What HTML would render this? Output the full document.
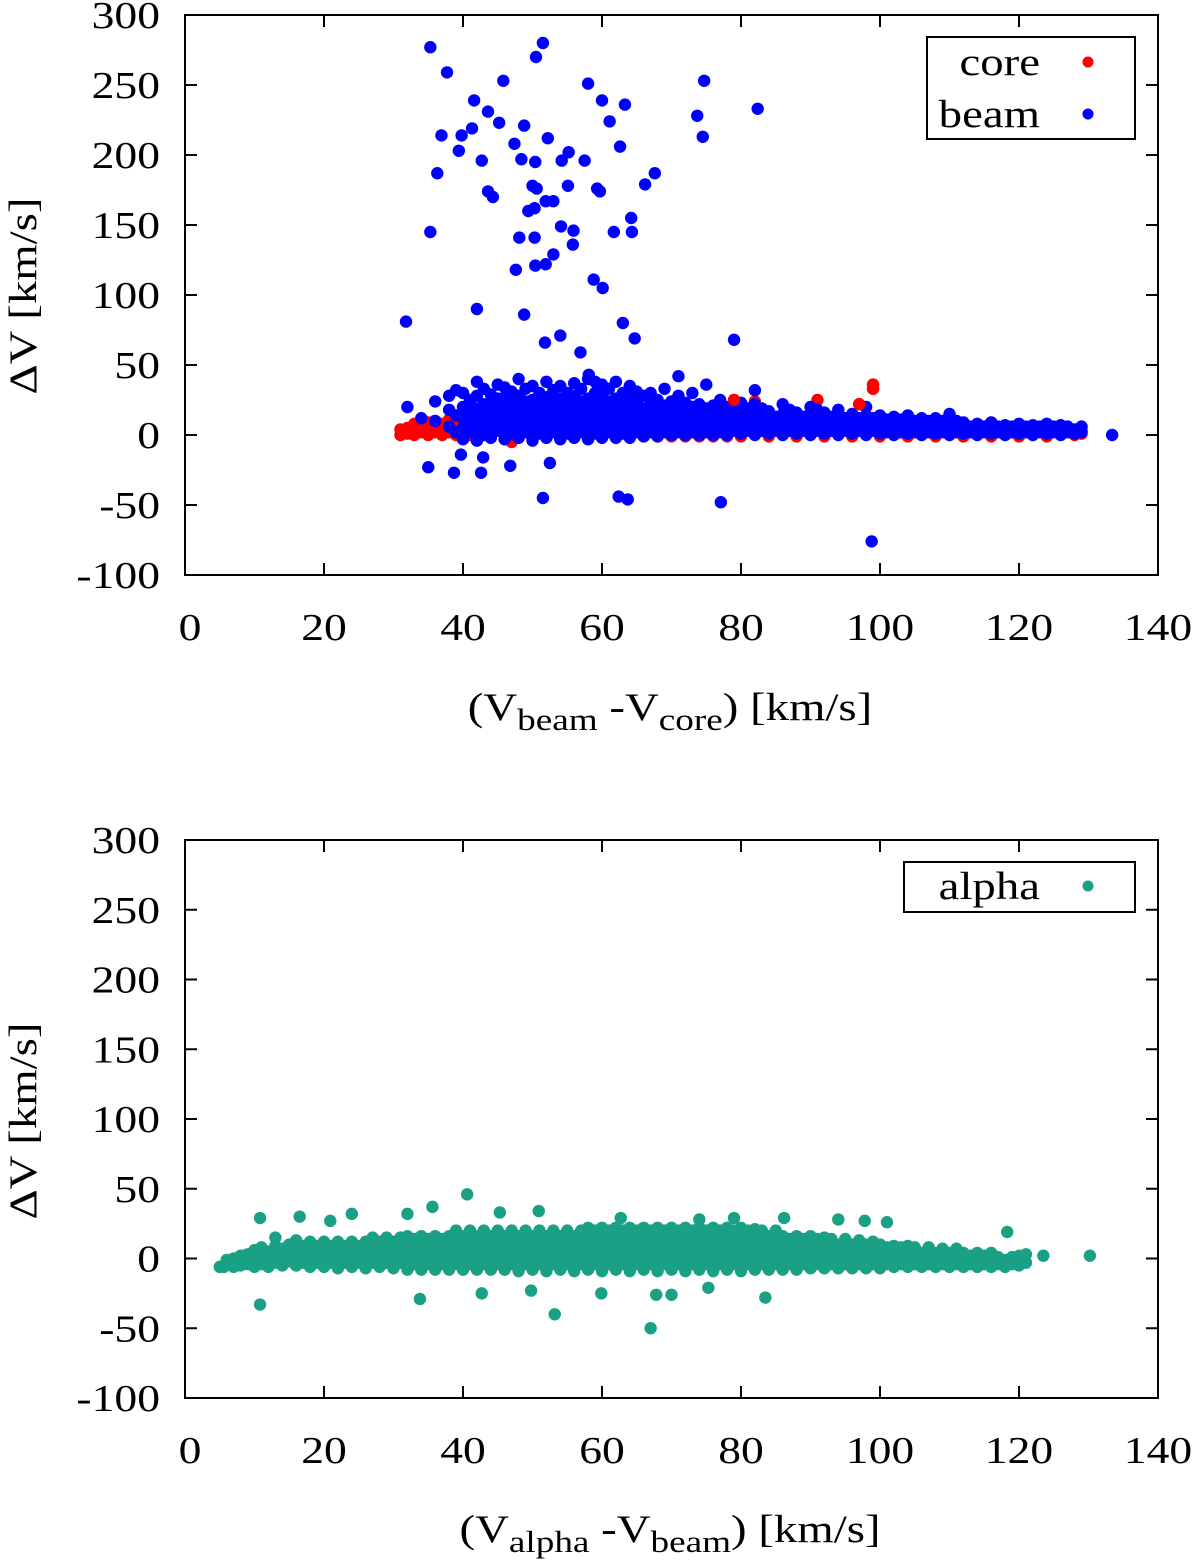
<!DOCTYPE html>
<html><head><meta charset="utf-8"><style>
html,body{margin:0;padding:0;background:#fff;}
svg{display:block;font-family:"Liberation Serif",serif;}
</style></head><body>
<svg id="fig" width="1200" height="1565" viewBox="0 0 1200 1565" xmlns="http://www.w3.org/2000/svg"></svg>
<script>
// ---------- data ----------
const xTicks = [0,20,40,60,80,100,120,140];
const yTicks = [300,250,200,150,100,50,0,-50,-100];
const coreCols = [[31,0,4],[32,1,5],[33,0,4,8],[34,2,6],[35,0,4,9],[36,2,6,10],[37,0,4,8],[38,2,6,11],[39,0,4,9],[40,2,7,12],[41,0,5,10],[42,-2,3,8],[44,-2,2,6],[46,-3,2],[48,-2,2],[50,-2,2],[52,-2,2],[54,-2,2],[56,-2,2],[58,-2,2],[60,-2,2],[62,-2,2],[64,-1,2],[66,-1,2],[68,-1,2],[70,-1,2],[72,-1,2],[74,-1,2],[76,-1,2],[78,-1,2],[80,-1,2],[84,-1,2],[88,-1,2],[92,-1,2],[96,-1,2],[100,-1,2],[104,-1,2],[108,-1,2],[112,-1,2],[116,-1,2],[120,-1,2],[124,-1,2],[128,0,2],[129,1,3]];
const coreOutX = [79,91,97,99,99,47,82];
const coreOutY = [25,25,22,33,36,-5,24];
const beamCols = [[32,20],[34,12],[36,10,24],[38,6,18,28],[39,2,14,32],[40,-3,5,12,20,30],[41,2,9,17,25],[42,-4,4,11,19,28,38],[43,0,7,14,22,33],[44,-2,6,13,21,29],[45,3,10,18,26,36],[46,-3,4,12,19,27,34],[47,1,8,15,23,31],[48,-2,5,12,20,28,40],[49,2,9,16,24,33],[50,-4,3,10,17,25,35],[51,1,8,15,22,30],[52,-2,5,12,19,27,38],[53,2,9,16,24,32],[54,-3,4,11,18,26,35],[55,1,8,15,22,30],[56,-2,5,12,20,28,37],[57,2,9,16,24,33],[58,-3,4,11,18,26,40],[59,1,8,15,22,30,38],[60,-2,5,12,20,28,36],[61,2,9,16,24,33],[62,-2,4,11,18,26,38],[63,1,8,15,22,30],[64,-2,5,12,19,27,35],[65,2,9,16,24,31],[66,-1,5,12,19,28],[67,2,8,15,22,30],[68,-1,5,11,18,25],[69,2,8,14,21,33],[70,0,5,11,17,24],[71,2,8,14,20,28,42],[72,0,5,11,17,23],[73,2,8,14,20,30],[74,0,5,10,16,22],[75,2,7,13,19,36],[76,0,4,10,15,21],[77,2,7,12,18,25],[78,0,4,9,15,20],[79,3,8,13,19],[80,1,6,11,17,23],[81,3,8,13,19],[82,0,5,10,15,22,32],[83,3,8,13,19],[84,1,6,11,17],[85,3,8,13],[86,0,5,10,15,22],[87,3,8,13,18],[88,1,6,11,16],[89,3,8,13],[90,0,5,10,15,20],[91,3,8,13,18],[92,1,6,11,16],[93,3,8,13],[94,0,5,10,15,18],[95,3,8,12],[96,1,6,11,15],[97,3,7,12],[98,0,4,9,14,20],[99,3,7,12],[100,1,5,10,14],[101,2,7,11],[102,0,4,9,13],[103,2,7,11],[104,1,5,9,14],[105,2,6,10],[106,0,4,8,12],[107,2,6,10],[108,1,5,9,12],[109,2,6,10],[110,0,4,8,15],[111,2,6,10],[112,1,5,9],[113,2,6],[114,0,4,8],[115,2,6],[116,1,5,9],[117,2,6],[118,0,4,7],[119,2,6],[120,1,5,8],[121,2,6],[122,0,4,7],[123,2,6],[124,1,5,8],[125,2,6],[126,0,4,7],[127,2,6],[128,1,4],[129,2,6]];
const beamOutX = [35.3,51.5,37.7,45.8,50.5,58,74.7,82.4,41.6,43.6,60,63.3,61.1,73.7,74.5,36.9,39.8,41.3,45.2,48.8,52.2,39.4,42.7,47.4,48.4,50.4,55.2,54.2,57.5,62.6,36.3,43.6,44.3,50,50.6,55.1,59.3,59.7,66.2,67.6,49.4,50.3,51.9,53,54.1,55.9,64.2,61.7,64.3,35.3,48.1,50.3,55.8,47.6,50.4,51.9,53,58.8,60.1,42,48.8,31.8,63,64.7,79,54,51.8,56.9,58.1,35,38.7,42.6,39.7,42.9,46.8,52.5,51.5,62.4,63.7,77.1,98.8,133.4];
const beamOutY = [277,280,259,253,270,251,253,233,239,231,239,236,224,228,213,214,214,219,223,221,212,203,196,208,197,195,202,196,196,206,187,174,170,178,176,178,176,174,179,187,160,162,167,167,149,146,155,145,145,145,141,141,136,118,121,122,129,111,105,90,86,81,80,69,68,71,66,59,43,-23,-27,-27,-14,-16,-22,-20,-45,-44,-46,-48,-76,0];
const alphaCols = [[5,-6],[6,-4,-1],[7,-6,0],[8,-5,2],[9,-4,3],[10,-6,0,6],[11,-4,2,8],[12,-6,0,5],[13,-3,3,9,15],[14,-5,1,7],[15,-2,4,10],[16,-5,1,7,13],[17,-3,3,9],[18,-6,0,6,12],[19,-3,3,9],[20,-6,0,6,12],[21,-3,3,9],[22,-7,0,6,12],[23,-3,3,9],[24,-6,0,6,12],[25,-3,3,9],[26,-7,0,6,12],[27,-3,3,9,15],[28,-6,0,6,12],[29,-3,3,9,15],[30,-7,0,6,12],[31,-3,3,9,15],[32,-8,-2,4,10,16],[33,-4,2,8,14],[34,-8,-2,4,10,16],[35,-4,2,8,14],[36,-8,-2,4,10,16],[37,-4,2,8,14],[38,-8,-2,4,10,16],[39,-4,2,8,14,20],[40,-8,-2,4,10,16],[41,-4,2,8,14,20],[42,-8,-2,4,10,16],[43,-4,2,8,14,20],[44,-8,-2,4,10,16],[45,-4,2,8,14,20],[46,-8,-2,4,10,16],[47,-4,2,8,14,20],[48,-9,-2,4,10,16],[49,-4,2,8,14,20],[50,-8,-2,4,10,16],[51,-4,2,8,14,20],[52,-9,-2,4,10,16],[53,-4,2,8,14,20],[54,-8,-2,4,10,16],[55,-4,2,8,14,20],[56,-9,-2,4,10,16],[57,-4,2,8,14,20],[58,-8,-2,4,10,16,22],[59,-4,2,8,14,20],[60,-9,-2,4,10,16,22],[61,-4,2,8,14,20],[62,-8,-2,4,10,16,22],[63,-4,2,8,14,20],[64,-9,-2,4,10,16,22],[65,-4,2,8,14,20],[66,-8,-2,4,10,16,22],[67,-4,2,8,14,20],[68,-9,-2,4,10,16,22],[69,-4,2,8,14,20],[70,-8,-2,4,10,16,22],[71,-4,2,8,14,20],[72,-9,-2,4,10,16,22],[73,-4,2,8,14,20],[74,-8,-2,4,10,16,22],[75,-4,2,8,14,20],[76,-9,-2,4,10,16,22],[77,-4,2,8,14,20],[78,-8,-2,4,10,16,22],[79,-4,2,8,14,20],[80,-9,-2,4,10,16,22],[81,-4,2,8,14,20],[82,-8,-2,4,10,16,21],[83,-4,2,8,14,20],[84,-8,-2,4,10,16],[85,-4,2,8,14,20],[86,-8,-2,4,10,16],[87,-4,2,8,14],[88,-8,-2,4,10,16],[89,-4,2,8,14],[90,-7,-2,4,10,16],[91,-4,2,8,14],[92,-7,-2,4,10,15],[93,-4,2,8,14],[94,-7,-2,4,10],[95,-4,2,8,14],[96,-7,-2,4,10],[97,-4,2,8,13],[98,-7,-2,4,10],[99,-4,2,8,12],[100,-7,-2,4,10],[101,-4,2,8],[102,-6,-1,4,9],[103,-4,2,8],[104,-6,-1,4,9],[105,-4,2,8],[106,-6,-1,4],[107,-4,2,8],[108,-6,-1,4],[109,-4,2,7],[110,-6,-1,4],[111,-4,2,7],[112,-6,-1,4],[113,-4,2],[114,-6,-1,4],[115,-4,2],[116,-6,-1,4],[117,-4,1],[118,-6,-1],[119,-4,1],[120,-5,2],[121,-3,3]];
const alphaOutX = [5.6,10.8,10.8,16.5,20.9,24,32,33.8,35.6,40.6,42.7,45.3,49.8,50.9,53.2,59.9,67,67.8,70,75.3,83.5,86.2,94,97.8,101,118.3,123.5,130.2,62.7,74,79];
const alphaOutY = [-6,29,-33,30,27,32,32,-29,37,46,-25,33,-23,34,-40,-25,-50,-26,-26,-21,-28,29,28,27,26,19,2,2,29,28,29];

// ---------- drawing ----------
const NS = "http://www.w3.org/2000/svg";
const svg = document.getElementById('fig');
function mk(tag, attrs, parent){ const e=document.createElementNS(NS,tag); for(const k in attrs) e.setAttribute(k,attrs[k]); (parent||svg).appendChild(e); return e; }
const L=185, R=1158;
const SX=1.2;
function panel(top, bottom, name){
  const g = mk('g',{});
  
  
  const sx = v => L + (v-0)/(140-0)*(R-L);
  const sy = v => bottom - (v+100)/400*(bottom-top);
  return {g, sx, sy, top, bottom};
}
function axes(p, prefix){
  const ax = mk('g',{},p.g);
  
  
  for(const t of yTicks){
    const y=p.sy(t);
    mk('line',{x1:L,x2:L+12,y1:y,y2:y,stroke:'#000','stroke-width':2},ax);
    mk('line',{x1:R-12,x2:R,y1:y,y2:y,stroke:'#000','stroke-width':2},ax);
    const tx=mk('text',{transform:`translate(160,${y+13}) scale(${SX},1)`,'text-anchor':'end','font-size':38},ax);
    tx.textContent=t;
    
    
  }
  for(const t of xTicks){
    const x=p.sx(t);
    mk('line',{x1:x,x2:x,y1:p.bottom,y2:p.bottom-12,stroke:'#000','stroke-width':2},ax);
    mk('line',{x1:x,x2:x,y1:p.top,y2:p.top+12,stroke:'#000','stroke-width':2},ax);
    const tx=mk('text',{transform:`translate(${x+(t===0?5:0)},${p.bottom+65}) scale(${SX},1)`,'text-anchor':'middle','font-size':38},ax);
    tx.textContent=t;
    
    
  }
}
function dot(p, x, y, color, name){
  const c=mk('circle',{cx:p.sx(x),cy:p.sy(y),r:6.2,fill:color},p.g);
  
  
}
function drawCols(p, cols, color, name){
  for(const col of cols){ for(let i=1;i<col.length;i++) dot(p,col[0],col[i],color,name); }
}
function drawOut(p, xs, ys, color, name){
  for(let i=0;i<xs.length;i++) dot(p,xs[i],ys[i],color,name);
}
const RED='#ff0000', BLUE='#0000ff', TEAL='#1aa085';

const p1 = panel(15, 575, 'top-panel');
drawCols(p1, coreCols, RED, 'core-point');
drawOut(p1, coreOutX, coreOutY, RED, 'core-point');
drawCols(p1, beamCols, BLUE, 'beam-point');
drawOut(p1, beamOutX, beamOutY, BLUE, 'beam-point');
drawOut(p1, [79,97,99,99], [25,22,33,36], RED, 'core-point');
mk('rect',{x:L,y:15,width:R-L,height:560,fill:'none',stroke:'#000','stroke-width':2},p1.g);
axes(p1,'top');

const p2 = panel(840, 1398, 'bottom-panel');
drawCols(p2, alphaCols, TEAL, 'alpha-point');
drawOut(p2, alphaOutX, alphaOutY, TEAL, 'alpha-point');
mk('rect',{x:L,y:840,width:R-L,height:558,fill:'none',stroke:'#000','stroke-width':2},p2.g);
axes(p2,'bottom');
</script>
<svg width="1200" height="1565" style="position:absolute;left:0;top:0;font-family:'Liberation Serif',serif" xmlns="http://www.w3.org/2000/svg">
  <g>
    <rect x="927" y="37" width="208" height="102" fill="#fff" stroke="#000" stroke-width="2"/>
    <text transform="translate(1040,75) scale(1.2,1)" text-anchor="end" font-size="39">core</text>
    <circle cx="1088" cy="62" r="5.5" fill="#ff0000"/>
    <text transform="translate(1040,127) scale(1.2,1)" text-anchor="end" font-size="39">beam</text>
    <circle cx="1088" cy="114" r="5.5" fill="#0000ff"/>
  </g>
  <g>
    <rect x="904" y="862" width="231" height="50" fill="#fff" stroke="#000" stroke-width="2"/>
    <text transform="translate(1040,899) scale(1.2,1)" text-anchor="end" font-size="39">alpha</text>
    <circle cx="1088" cy="886" r="5.5" fill="#1aa085"/>
  </g>
  <text transform="translate(36,296) rotate(-90) scale(1.2,1)" text-anchor="middle" font-size="39">ΔV [km/s]</text>
  <text transform="translate(36,1121) rotate(-90) scale(1.2,1)" text-anchor="middle" font-size="39">ΔV [km/s]</text>
  <text transform="translate(670,720) scale(1.2,1)" text-anchor="middle" font-size="39">(V<tspan dy="10" font-size="31">beam</tspan><tspan dy="-10"> -V</tspan><tspan dy="10" font-size="31">core</tspan><tspan dy="-10">) [km/s]</tspan></text>
  <text transform="translate(670,1542) scale(1.2,1)" text-anchor="middle" font-size="39">(V<tspan dy="10" font-size="31">alpha</tspan><tspan dy="-10"> -V</tspan><tspan dy="10" font-size="31">beam</tspan><tspan dy="-10">) [km/s]</tspan></text>
</svg>
</body></html>
